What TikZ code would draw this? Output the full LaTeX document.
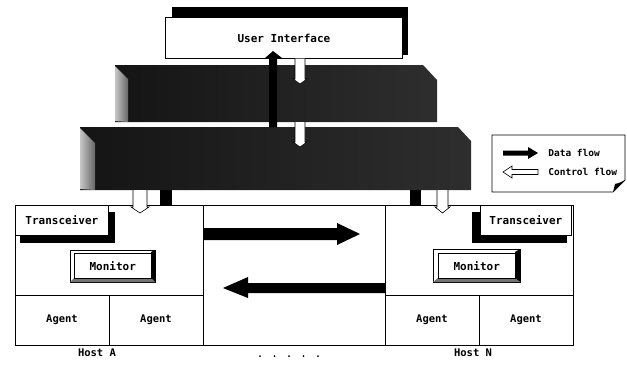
\documentclass[tikz,border=0pt]{standalone}
\usepackage{fontspec}
\newfontfamily\dm{DejaVu Sans Mono}
\begin{document}
\begin{tikzpicture}[x=1pt,y=-1pt,line width=0.8pt,
  lbl/.style={font=\dm\bfseries\fontsize{11}{12}\selectfont,inner sep=0pt},
  agentlbl/.style={font=\dm\bfseries\fontsize{10.5}{12}\selectfont,inner sep=0pt},
  small/.style={font=\dm\bfseries\fontsize{9.5}{11}\selectfont,inner sep=0pt,anchor=west},
  hostlbl/.style={font=\dm\bfseries\fontsize{10.5}{12}\selectfont,inner sep=0pt},
  box/.style={draw,fill=white,inner sep=0pt,anchor=north west},
  slab/.style={left color=black!92,right color=black!82},
  sideface/.style={left color=black!22,right color=black!60},
  ctrl/.style={draw,fill=white,line width=0.6pt},
  data/.style={fill=black}]
\useasboundingbox (0,0) rectangle (627,367);

% ---- User interface ----
\fill (172,7) rectangle (408,55);
\node[box,minimum width=237pt,minimum height=41pt] (ui) at (165,17) {};
\node[lbl] (uit) at (ui.center) {User Interface};

% ---- slab 1 ----
\shade[slab] (115,65) -- (423,65) -- (437,80) -- (437,122) -- (115,122) -- cycle;
\shade[sideface] (115,66) -- (128,79) -- (128,122) -- (115,121) -- cycle;
% ---- slab 2 ----
\shade[slab] (80,127) -- (458,127) -- (471,141) -- (471,190) -- (80,190) -- cycle;
\shade[sideface] (80,128) -- (95,143) -- (95,190) -- (80,189) -- cycle;

% ---- data arrow up to UI ----
\fill[data] (269,127) -- (269,58) -- (265,58) -- (273,51) -- (282,58) -- (277,58) -- (277,127) -- cycle;
% ---- control arrows down ----
\draw[ctrl] (295,58.5) -- (295,79) -- (293,79) -- (300,84) -- (307,79) -- (305,79) -- (305,58.5);
\draw[ctrl] (295,122) -- (295,142) -- (293,142) -- (300,147) -- (307,142) -- (305,142) -- (305,122);

% ---- hosts frame ----
\draw (15,205) rectangle (573,345);
\draw (15,295) -- (203,295) (203,205) -- (203,345) (109,295) -- (109,345);
\draw (385,295) -- (573,295) (385,205) -- (385,345) (479,295) -- (479,345);

% ---- bars from slab to hosts ----
\fill[data] (160,190) rectangle (172,205);
\fill[data] (410,190) rectangle (421,205);
\draw[ctrl] (133,190) -- (133,207) -- (131,207) -- (140,213) -- (149,207) -- (147,207) -- (147,190);
\draw[ctrl] (437,190) -- (437,207) -- (435,207) -- (442.5,213) -- (450,207) -- (448,207) -- (448,190);

% ---- transceivers ----
\fill (20,212) rectangle (115,243);
\node[box,minimum width=93pt,minimum height=30pt] (ta) at (15,205) {};
\node[lbl] at (ta.center) {Transceiver};
\fill (472,212) rectangle (567,243);
\node[box,minimum width=91pt,minimum height=30pt] (tn) at (480,205) {};
\node[lbl] at (tn.center) {Transceiver};

% ---- monitors ----
\draw[fill=white,line width=0.5pt] (70,250) rectangle (155,282);
\fill (151,252) -- (155,250) -- (155,282) -- (151,278) -- cycle;
\fill[black!55] (74,278) -- (151,278) -- (155,282) -- (70,282) -- cycle;
\node[box,line width=0.6pt,minimum width=77pt,minimum height=25pt] (ma) at (74,253) {};
\node[lbl] at (ma.center) {Monitor};

\draw[fill=white,line width=0.5pt] (433,249) rectangle (520,282);
\fill (515,252) -- (520,249) -- (520,282) -- (515,278) -- cycle;
\fill[black!55] (438,278) -- (515,278) -- (520,282) -- (433,282) -- cycle;
\node[box,line width=0.6pt,minimum width=77pt,minimum height=25pt] (mn) at (438,253) {};
\node[lbl] at (mn.center) {Monitor};

% ---- agents ----
\node[agentlbl] (a1) at (62,320) {Agent};
\node[agentlbl] (a2) at (156,320) {Agent};
\node[agentlbl] (a3) at (432,320) {Agent};
\node[agentlbl] (a4) at (526,320) {Agent};

% ---- big data arrows ----
\fill[data] (203,228) -- (337,228) -- (337,223) -- (360,234) -- (337,245) -- (337,240) -- (203,240) -- cycle;
\fill[data] (385,283) -- (248,283) -- (248,277) -- (223,288) -- (248,298) -- (248,293) -- (385,293) -- cycle;

% ---- labels ----
\node[hostlbl] (ha) at (97,353) {Host A};
\node[hostlbl] (hn) at (473,353) {Host N};
\foreach \i in {0,...,4} \fill (260+14.5*\i,356) circle (1pt);

% ---- legend ----
\draw[line width=0.7pt,fill=white] (492,135) -- (625,135) -- (625,180) -- (613,192) -- (492,192) -- cycle;
\fill (613,192) -- (615,184) .. controls (619,183) and (622,182) .. (625,180) -- cycle;
\fill[data] (503,150.5) -- (528,150.5) -- (528,147) -- (538,153) -- (528,159) -- (528,155.5) -- (503,155.5) -- cycle;
\draw[ctrl] (538,169.5) -- (512,169.5) -- (512,166) -- (503,172) -- (512,178) -- (512,174.5) -- (538,174.5) -- cycle;
\node[small] (ld) at (548,153) {Data flow};
\node[small] (lc) at (548,172) {Control flow};
\end{tikzpicture}
\end{document}
